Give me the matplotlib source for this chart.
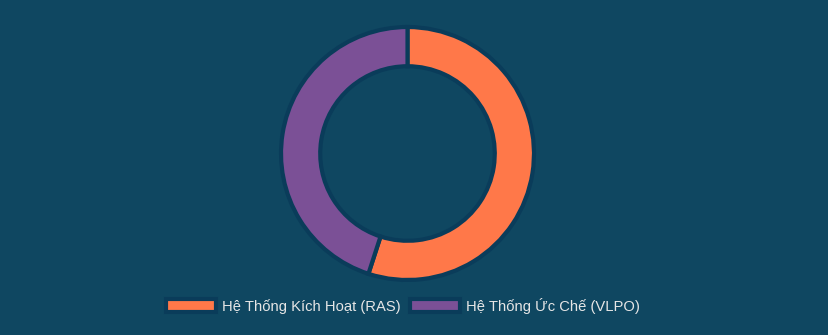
import matplotlib
matplotlib.use("Agg")
import matplotlib.pyplot as plt
from matplotlib.patches import Patch

labels = ["Hệ Thống Kích Hoạt (RAS)", "Hệ Thống Ức Chế (VLPO)"]
values = [55, 45]
colors = ["#ff7849", "#7b5096"]

bg = "#0f4761"
edge = "#0a3c5a"

plt.rcParams["font.family"] = ["Liberation Sans", "DejaVu Sans"]

W, H = 829, 335
fig = plt.figure(figsize=(W / 100, H / 100), dpi=100, facecolor=bg)

cx, cy, r = 407.5, 153.5, 127.5
ax = fig.add_axes([(cx - r) / W, (H - cy - r) / H, 2 * r / W, 2 * r / H])
ax.set_facecolor(bg)
ax.pie(values, colors=colors, startangle=90, counterclock=False, radius=1.0,
       wedgeprops=dict(width=0.31, edgecolor=edge, linewidth=3.0))
ax.set_xlim(-1.008, 1.008)
ax.set_ylim(-1.008, 1.008)
ax.set_aspect("equal")
ax.axis("off")

handles = [Patch(facecolor=c, edgecolor=edge, linewidth=3.0) for c in colors]
leg = fig.legend(handles, labels, loc="center", bbox_to_anchor=(403 / W, 1 - 305.5 / H),
                 ncol=2, frameon=False, fontsize=10.6, labelcolor="#e6e6e6",
                 handlelength=3.4, handleheight=1.0, handletextpad=0.4,
                 columnspacing=0.6, borderpad=0.2)

fig.savefig("out.png", dpi=100, facecolor=bg)
